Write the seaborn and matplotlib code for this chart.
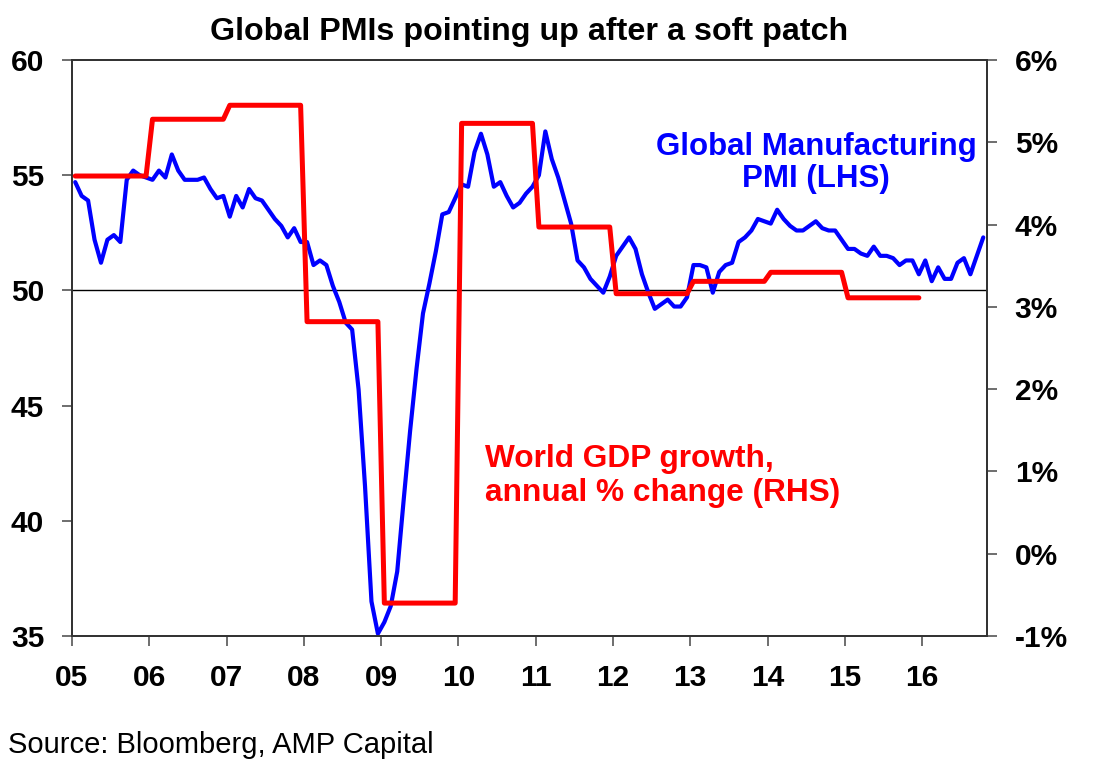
import numpy as np
import pandas as pd
import matplotlib
matplotlib.use('Agg')
import matplotlib.pyplot as plt
import seaborn as sns
from matplotlib.ticker import FuncFormatter

# Global manufacturing PMI, monthly from Jan 2005 (LHS)
pmi = [54.7, 54.1, 53.9, 52.2, 51.2, 52.2, 52.4, 52.1, 54.8, 55.2, 55.0, 54.9,
       54.8, 55.2, 54.9, 55.9, 55.2, 54.8, 54.8, 54.8, 54.9, 54.4, 54.0, 54.1,
       53.2, 54.1, 53.6, 54.4, 54.0, 53.9, 53.5, 53.1, 52.8, 52.3, 52.7, 52.1,
       52.1, 51.1, 51.3, 51.1, 50.2, 49.5, 48.6, 48.3, 45.7, 41.5, 36.5, 35.1,
       35.6, 36.3, 37.8, 40.9, 43.9, 46.6, 49.0, 50.3, 51.7, 53.3, 53.4, 54.0,
       54.6, 54.5, 56.0, 56.8, 55.9, 54.5, 54.7, 54.1, 53.6, 53.8, 54.2, 54.5,
       55.0, 56.9, 55.7, 54.9, 53.9, 52.9, 51.3, 51.0, 50.5, 50.2, 49.9, 50.6,
       51.5, 51.9, 52.3, 51.8, 50.7, 49.9, 49.2, 49.4, 49.6, 49.3, 49.3, 49.7,
       51.1, 51.1, 51.0, 49.9, 50.8, 51.1, 51.2, 52.1, 52.3, 52.6, 53.1, 53.0,
       52.9, 53.5, 53.1, 52.8, 52.6, 52.6, 52.8, 53.0, 52.7, 52.6, 52.6, 52.2,
       51.8, 51.8, 51.6, 51.5, 51.9, 51.5, 51.5, 51.4, 51.1, 51.3, 51.3, 50.7,
       51.3, 50.4, 51.0, 50.5, 50.5, 51.2, 51.4, 50.7, 51.5, 52.3]

# World GDP growth, annual % change (RHS)
gdp_years = [2005, 2006, 2007, 2008, 2009, 2010, 2011, 2012, 2013, 2014, 2015]
gdp_growth = [4.59, 5.28, 5.45, 2.82, -0.60, 5.23, 3.97, 3.16, 3.31, 3.42, 3.11]

year_ticks = list(range(2005, 2017))
year_labels = ['05', '06', '07', '08', '09', '10', '11', '12', '13', '14', '15', '16']
pmi_ticks = [35, 40, 45, 50, 55, 60]
gdp_ticks = [-1, 0, 1, 2, 3, 4, 5, 6]


def to_decimal_year(dates):
    return dates.year + (dates.month - 0.5) / 12


pmi_dates = pd.date_range('2005-01-01', periods=len(pmi), freq='MS')
pmi_df = pd.DataFrame({'t': to_decimal_year(pmi_dates), 'pmi': pmi})

gdp_dates = pd.date_range(f'{gdp_years[0]}-01-01', f'{gdp_years[-1]}-12-01', freq='MS')
gdp_df = pd.DataFrame({'t': to_decimal_year(gdp_dates), 'gdp': np.repeat(gdp_growth, 12)})

sns.set_style('ticks')
plt.rcParams['font.family'] = ['Liberation Sans', 'DejaVu Sans']
plt.rcParams['font.weight'] = 'bold'
plt.rcParams['text.color'] = 'black'
plt.rcParams['xtick.labelcolor'] = 'black'
plt.rcParams['ytick.labelcolor'] = 'black'

W, H = 1094, 777
fig = plt.figure(figsize=(W / 100, H / 100), dpi=100)
ax = fig.add_axes([72 / W, 1 - 636 / H, (987 - 72) / W, (636 - 60) / H])
ax2 = ax.twinx()

ax.axhline(50, color='black', lw=1.0, zorder=1)
sns.lineplot(data=pmi_df, x='t', y='pmi', ax=ax, color='#0000FF', lw=3.0, zorder=3)
sns.lineplot(data=gdp_df, x='t', y='gdp', ax=ax2, color='#FF0000', lw=3.6, zorder=3)

ax.set_xlim(2005, 2016.84)
ax.set_ylim(35, 60)
ax2.set_ylim(-1, 6)
ax.set_xticks(year_ticks)
ax.set_xticklabels(year_labels)
ax.set_yticks(pmi_ticks)
ax2.set_yticks(gdp_ticks)
ax2.yaxis.set_major_formatter(FuncFormatter(lambda v, p: f'{v:.0f}%'))
ax.set_xlabel('')
ax.set_ylabel('')
ax2.set_ylabel('')

for a in (ax, ax2):
    for s in a.spines.values():
        s.set_visible(True)
        s.set_color('#333333')
        s.set_linewidth(1.3)
    a.tick_params(axis='both', direction='out', length=7, width=1.2,
                  color='#555555', labelsize=21.5, pad=13)
ax.tick_params(axis='y', right=False)
ax2.tick_params(axis='y', left=False, right=True)

fig.text(529.5 / W, 1 - 32 / H, 'Global PMIs pointing up after a soft patch',
         ha='center', va='center', fontsize=23.2, fontweight='bold')
fig.text(816 / W, 1 - 163 / H, 'Global Manufacturing\nPMI (LHS)', color='#0000FF',
         ha='center', va='center', fontsize=22.5, fontweight='bold', linespacing=1.07)
fig.text(485 / W, 1 - 476 / H, 'World GDP growth,\nannual % change (RHS)', color='#FF0000',
         ha='left', va='center', fontsize=22.8, fontweight='bold', linespacing=1.14)
fig.text(8 / W, 1 - 745 / H, 'Source: Bloomberg, AMP Capital',
         ha='left', va='center', fontsize=21, fontweight='normal')

fig.savefig('out.png', dpi=100)
